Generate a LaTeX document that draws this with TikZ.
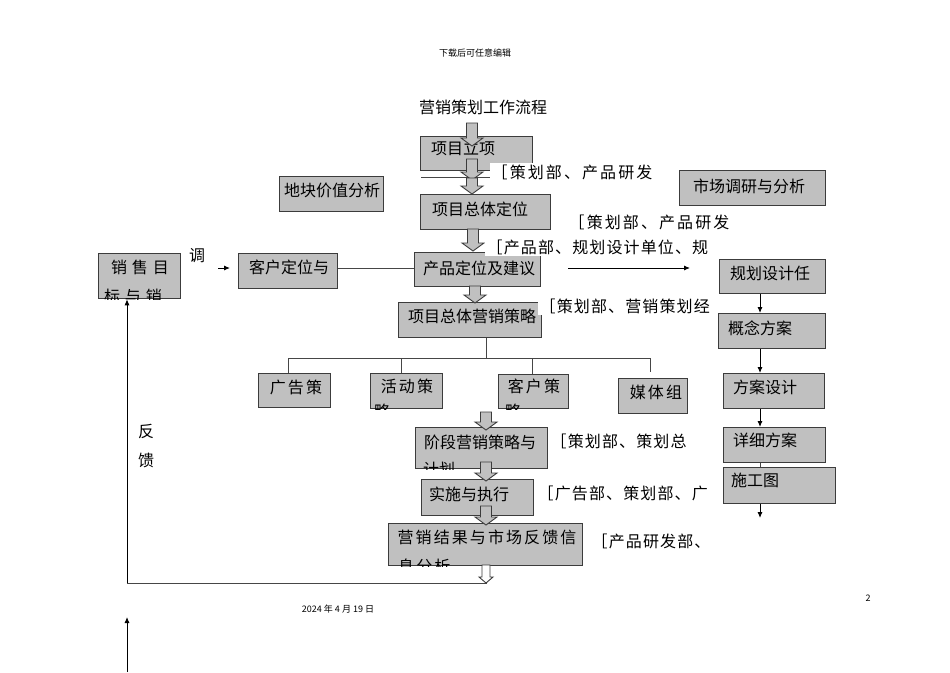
\documentclass[tikz,border=0pt]{standalone}
\usepackage{fontspec}
\setmainfont{Noto Sans CJK SC}
\newfontfamily\cjk{Noto Sans CJK SC}
\newfontfamily\cjksa[LetterSpace=7]{Noto Sans CJK SC}
\newfontfamily\cjksb[LetterSpace=13]{Noto Sans CJK SC}
\newfontfamily\cjksc[LetterSpace=30]{Noto Sans CJK SC}
\usetikzlibrary{arrows.meta,calc}
\definecolor{boxfill}{RGB}{192,192,192}
\definecolor{boxline}{RGB}{60,60,60}
\definecolor{linec}{RGB}{70,70,70}
\tikzset{
  box/.style={draw=boxline, fill=boxfill, line width=1.3pt, inner sep=0pt, anchor=north west},
  txt/.style={inner sep=0pt, font=\cjk\fontsize{16}{18}\selectfont},
  txtsp/.style={inner sep=0pt, font=\cjksb\fontsize{16}{18}\selectfont},
  txtwide/.style={inner sep=0pt, font=\cjksc\fontsize{16}{18}\selectfont},
  lbl/.style={fill=white, inner sep=1.5pt, anchor=west, font=\cjksa\fontsize{16}{18}\selectfont},
  lblw/.style={fill=white, inner sep=1.5pt, anchor=west, font=\cjksb\fontsize{16}{18}\selectfont},
  conn/.style={draw=linec, line width=0.9pt},
  arr/.style={draw=black, line width=0.9pt, -{Latex[length=6pt,width=5pt]}},
  blk/.style={draw=boxline, line width=0.9pt, fill=boxfill, line join=miter},
  small/.style={inner sep=0pt, font=\cjk\fontsize{9}{10}\selectfont},
}
% box: name, left, top, right, bottom
\newcommand\mkbox[5]{\node[box, minimum width={(#4-#2)*1pt}, minimum height={(#5-#3)*1pt}] (#1) at (#2,#3) {};}
% block arrow: fill, centre x, top y, tip y
\newcommand\blkarrow[4]{\draw[blk, fill=#1] ({#2-5.5},#3) -- ({#2+5.5},#3) -- ({#2+5.5},{#4-8}) -- ({#2+11},{#4-8}) -- (#2,#4) -- ({#2-11},{#4-8}) -- ({#2-5.5},{#4-8}) -- cycle;}
\begin{document}
\begin{tikzpicture}[x=1pt,y=-1pt]
\useasboundingbox (0,0) rectangle (950,672);
% header, title, footer
\node[small] (hdr) at (475,53) {下载后可任意编辑};
\node[txt] (title) at (483,107) {营销策划工作流程};
\node[small] (date) at (338,609) {2024 年 4 月 19 日};
\node[small] (page) at (868,598) {2};

% boxes
\mkbox{A}{420}{136}{532}{170}
\mkbox{B}{420}{194}{550}{229}
\mkbox{C}{279}{176}{383}{211}
\mkbox{D}{679}{170}{825}{205}
\mkbox{E}{414}{252}{540}{286}
\mkbox{F}{238}{253}{337}{288}
\mkbox{G}{98}{253}{180}{298}
\mkbox{H}{398}{302}{541}{337}
\mkbox{I}{258}{373}{330}{407}
\mkbox{J}{370}{373}{442}{408}
\mkbox{K}{498}{374}{568}{408}
\mkbox{L}{618}{378}{687}{413}
\mkbox{M}{415}{427}{547}{468}
\mkbox{N}{421}{479}{533}{515}
\mkbox{O}{388}{523}{582}{565}
\mkbox{P}{719}{259}{825}{293}
\mkbox{Q}{718}{313}{825}{348}
\mkbox{R}{723}{373}{824}{408}
\mkbox{S}{723}{427}{825}{462}
\mkbox{T}{723}{467}{835}{503}

% box texts
\node[txt] at (463,148) {项目立项};
\node[txt] at (480,209) {项目总体定位};
\node[txt] at (332,190) {地块价值分析};
\node[txt] at (749,186) {市场调研与分析};
\node[txt] at (479,268) {产品定位及建议};
\node[txt] at (289,267) {客户定位与};
\node[txt] at (472,316) {项目总体营销策略};
\node[txtsp] at (296,387) {广告策};
\node[txtsp] at (407,386) {活动策};
\node[txtsp] at (534,386) {客户策};
\node[txtsp] at (656,392) {媒体组};
\node[txt] at (480,442) {阶段营销策略与};
\node[txt] at (469,494) {实施与执行};
\node[txtsp] at (487,537) {营销结果与市场反馈信};
\node[txt] at (770,273) {规划设计任};
\node[txt] at (760,328) {概念方案};
\node[txt] at (765,387) {方案设计};
\node[txt] at (765,440) {详细方案};
\node[txt] at (755,480) {施工图};
\node[txtwide] at (140,267) {销售目};
% clipped second lines
\begin{scope}
  \clip (G.north west) rectangle (G.south east);
  \node[txtwide, anchor=west] at (104,296) {标与销};
\end{scope}
\begin{scope}
  \clip (J.north west) rectangle (J.south east);
  \node[txtsp, anchor=west] at (374,411) {略};
\end{scope}
\begin{scope}
  \clip (K.north west) rectangle (K.south east);
  \node[txtsp, anchor=west] at (505,411) {略};
\end{scope}
\begin{scope}
  \clip (M.north west) rectangle (M.south east);
  \node[txt, anchor=west] at (423,469) {计划};
\end{scope}
\begin{scope}
  \clip (O.north west) rectangle (O.south east);
  \node[txtsp, anchor=west] at (398,566) {息分析};
\end{scope}

% side texts
\node[txt] (tiao) at (197,256) {调};
\node[txt] (fan) at (146,432) {反};
\node[txt] (kui) at (146,460) {馈};

% connectors
\coordinate (lineA1) at (421,177);
\coordinate (lineA2) at (500,177);
\draw[conn] (lineA1) -- (lineA2);
\draw[conn] (F.east |- 0,268) -- (E.west |- 0,268);
\coordinate (ar1) at (568,268);
\coordinate (ar2) at (690,268);
\draw[arr] (ar1) -- (ar2);
\coordinate (sa1) at (218,268);
\coordinate (sa2) at (230,268);
\draw[arr] (sa1) -- (sa2);

% feedback loop
\coordinate (fb1) at (487,583);
\coordinate (fb2) at (127,583);
\draw[conn] (fb1) -- (fb2);
\draw[arr] (fb2) -- (G.south -| fb2);
\coordinate (fb3) at (127,672);
\coordinate (fb4) at (127,617);
\draw[arr] (fb3) -- (fb4);

% tree
\coordinate (tr0) at (486,358);
\draw[conn] (H.south -| tr0) -- (tr0);
\draw[conn] (288,358) -- (650,358);
\draw[conn] (288,358) -- (I.north -| 288,0);
\draw[conn] (401,358) -- (J.north -| 401,0);
\draw[conn] (532,358) -- (K.north -| 532,0);
\coordinate (trL) at (650,372);
\draw[conn] (650,358) -- (trL);

% right column
\coordinate (rc) at (760,0);
\draw[arr] (P.south -| rc) -- (Q.north -| rc);
\draw[arr] (Q.south -| rc) -- (R.north -| rc);
\draw[arr] (R.south -| rc) -- (S.north -| rc);
\draw[conn] (S.south -| rc) -- (T.north -| rc);
\coordinate (rcend) at (760,518);
\draw[arr] (T.south -| rc) -- (rcend);

% block arrows
\blkarrow{boxfill}{472}{123}{146}
\blkarrow{boxfill}{472}{159}{180}
\blkarrow{boxfill}{472}{178}{194}
\blkarrow{boxfill}{473}{229}{251}
\blkarrow{boxfill}{475}{286}{303}
\blkarrow{boxfill}{486}{412}{430}
\blkarrow{boxfill}{486}{462}{481}
\blkarrow{boxfill}{486}{506}{525}
\draw[blk, fill=white] (482,565) -- (490,565) -- (490,577) -- (493,577) -- (486,583) -- (479,577) -- (482,577) -- cycle;

% labels
\node[lblw] (l1) at (490,172) {［策划部、产品研发};
\node[lblw] (l2) at (567,222) {［策划部、产品研发};
\node[lbl] (l3) at (485,247) {［产品部、规划设计单位、规};
\node[lbl] (l4) at (538,306) {［策划部、营销策划经};
\node[lbl] (l5) at (549,441) {［策划部、策划总};
\node[lbl] (l6) at (536,493) {［广告部、策划部、广};
\node[lbl] (l7) at (590,541) {［产品研发部、};
\end{tikzpicture}
\end{document}
